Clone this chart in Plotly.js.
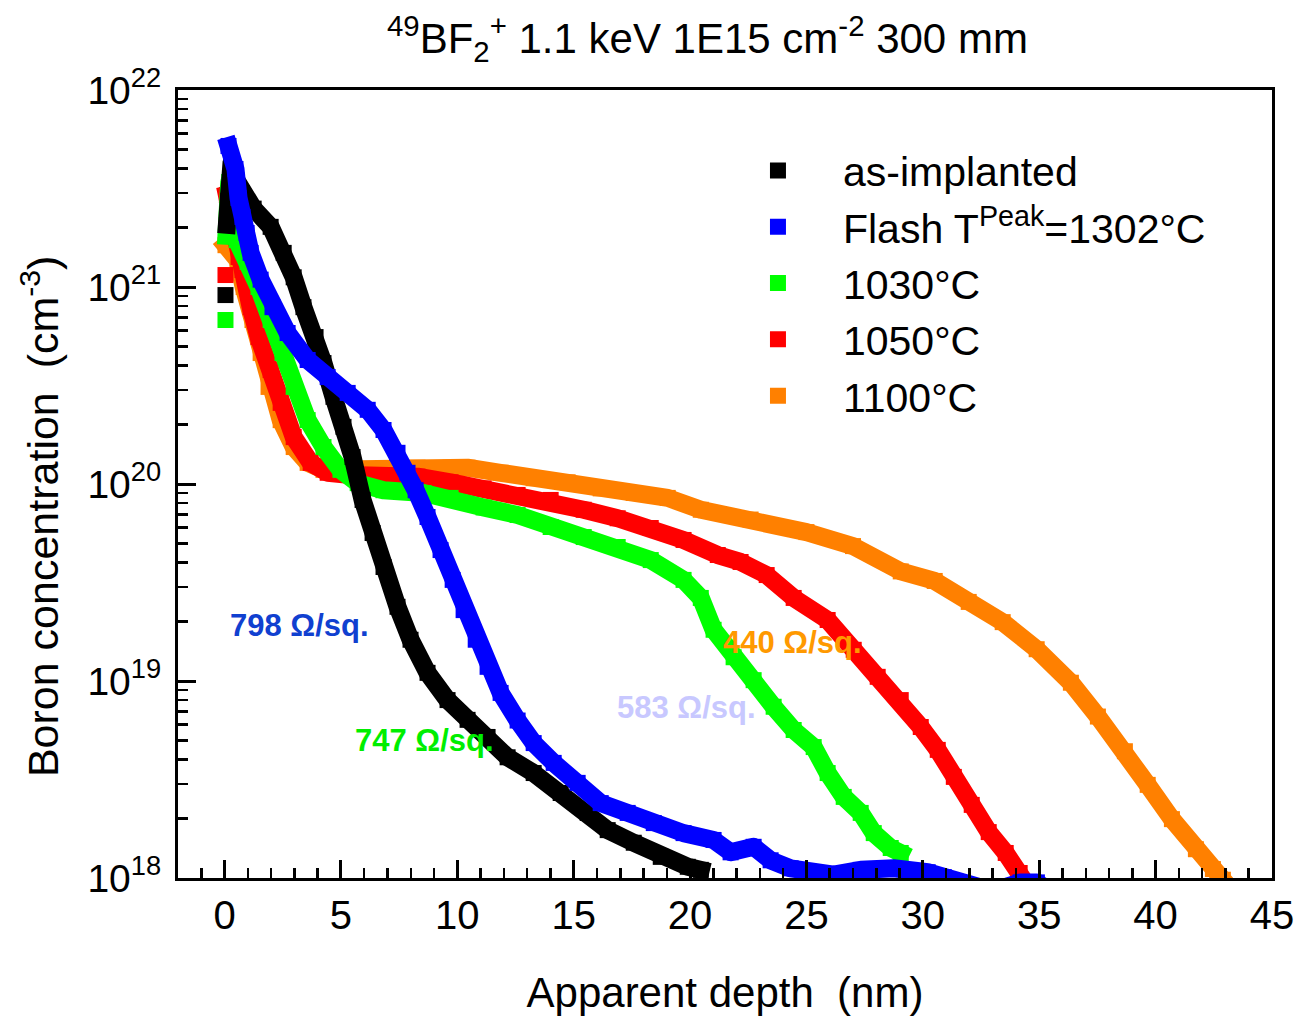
<!DOCTYPE html>
<html><head><meta charset="utf-8">
<script src="https://cdn.plot.ly/plotly-3.0.1.min.js"></script>
<style>
body{margin:0;background:#fff}
#chart{width:1298px;height:1016px}
.scatterlayer .js-line{stroke-linejoin:round !important;stroke-linecap:square !important}
</style>
</head><body><div id="chart"></div>
<script>
// ---- data (depth in nm, concentration in cm^-3) ----
const seriesNames = ['as-implanted', 'Flash T<sup>Peak</sup>=1302°C', '1030°C', '1050°C', '1100°C'];
const seriesColors = ['#000000', '#0000ff', '#00ff00', '#ff0000', '#ff8000'];

const blackX = [0.04, null, 0.10, 0.16, 0.30, 0.50, 0.75, 1.25, 1.98, 2.54, 2.97, 3.39, 3.91, 4.25, 4.68, 5.11, 5.50, 5.93, 6.36, 6.83, 7.43, 7.99, 8.72, 9.58, 10.44, 11.30, 12.16, 13.28, 14.44, 15.60, 16.46, 17.58, 18.74, 19.90, 20.46];
const blackY = [9.1e20, null, 2.07e21, 2.74e21, 4.3e21, 3.5e21, 3.0e21, 2.5e21, 2.02e21, 1.49e21, 1.12e21, 7.9e20, 5.57e20, 4.11e20, 2.77e20, 1.95e20, 1.37e20, 8.3e19, 5.64e19, 3.79e19, 2.38e19, 1.62e19, 1.10e19, 8.0e18, 6.35e18, 5.2e18, 4.1e18, 3.41e18, 2.70e18, 2.14e18, 1.75e18, 1.51e18, 1.28e18, 1.14e18, 1.10e18];

const blueX = [0.17, 0.47, 0.60, 0.77, 0.95, 1.12, 1.55, 2.06, 2.71, 3.57, 4.43, 5.29, 6.15, 6.83, 7.43, 7.86, 8.21, 8.72, 9.28, 9.80, 10.27, 10.79, 11.30, 11.86, 12.59, 13.28, 14.14, 15.17, 16.16, 17.32, 18.44, 19.72, 21.01, 21.74, 22.73, 23.46, 24.32, 25.31, 26.17, 27.33, 28.75, 30.21, 30.90, 32.0, 33.0, 34.2, 34.9, 35.5];
const blueY = [5.2e21, 3.97e21, 2.83e21, 2.27e21, 1.88e21, 1.49e21, 1.09e21, 7.9e20, 5.84e20, 4.26e20, 3.49e20, 2.90e20, 2.38e20, 1.88e20, 1.44e20, 1.14e20, 9.3e19, 6.8e19, 4.62e19, 3.26e19, 2.29e19, 1.62e19, 1.18e19, 8.7e18, 6.3e18, 4.84e18, 3.84e18, 3.04e18, 2.40e18, 2.14e18, 1.90e18, 1.69e18, 1.56e18, 1.35e18, 1.44e18, 1.23e18, 1.12e18, 1.07e18, 1.04e18, 1.10e18, 1.12e18, 1.07e18, 1.01e18, 0.88e18, 0.86e18, 0.95e18, 0.95e18, 0.85e18];

const greenX = [0.04, null, 0.08, 0.12, 0.20, 0.52, 0.99, 1.46, 1.98, 2.49, 2.97, 3.57, 4.25, 4.98, 5.72, 6.83, 8.55, 9.71, 11.13, 12.59, 14.01, 15.43, 16.89, 18.31, 19.72, 20.46, 21.01, 21.87, 22.73, 23.59, 24.45, 25.31, 25.91, 26.60, 27.33, 27.89, 28.62, 29.05];
const greenY = [6.8e20, null, 1.82e21, 2.38e21, 3.41e21, 1.73e21, 1.34e21, 1.0e21, 6.8e20, 4.62e20, 3.11e20, 2.11e20, 1.54e20, 1.18e20, 1.01e20, 9.3e19, 9.0e19, 8.5e19, 7.6e19, 6.96e19, 6.05e19, 5.38e19, 4.79e19, 4.11e19, 3.26e19, 2.64e19, 1.82e19, 1.32e19, 1.01e19, 7.4e18, 5.64e18, 4.62e18, 3.41e18, 2.58e18, 2.14e18, 1.69e18, 1.42e18, 1.34e18];

const redX = [0.04, null, 0.10, 0.60, 0.77, 1.12, 1.46, 1.98, 2.41, 2.97, 3.70, 4.43, 5.41, 6.83, 8.29, 9.71, 11.13, 12.59, 14.01, 15.43, 16.89, 18.31, 19.72, 21.19, 22.17, 23.29, 24.45, 25.91, 27.03, 28.06, 29.05, 29.91, 30.64, 31.33, 32.10, 32.83, 33.56, 34.16, 34.40];
const redY = [1.15e21, null, 2.93e21, 1.42e21, 1.22e21, 7.9e20, 5.57e20, 3.79e20, 2.58e20, 1.73e20, 1.28e20, 1.14e20, 1.11e20, 1.11e20, 1.09e20, 1.02e20, 9.5e19, 8.8e19, 8.3e19, 7.4e19, 6.7e19, 5.98e19, 5.2e19, 4.36e19, 4.02e19, 3.45e19, 2.64e19, 2.04e19, 1.44e19, 1.05e19, 8.0e18, 5.84e18, 4.47e18, 3.26e18, 2.35e18, 1.71e18, 1.34e18, 1.06e18, 0.95e18];

const orangeX = [0.04, 0.56, 0.82, 1.20, 1.55, 1.89, 2.41, 2.97, 3.57, 4.25, 5.41, 6.83, 8.29, 9.71, 10.44, 11.86, 13.28, 14.74, 16.16, 17.58, 19.04, 20.46, 22.6, 25.0, 27.0, 29.05, 30.51, 31.97, 33.43, 34.89, 36.36, 37.52, 38.68, 39.66, 40.70, 41.73, 42.46, 42.89];
const orangeY = [1.63e21, 1.37e21, 1.0e21, 6.8e20, 4.62e20, 3.11e20, 2.11e20, 1.54e20, 1.28e20, 1.18e20, 1.18e20, 1.19e20, 1.21e20, 1.21e20, 1.21e20, 1.14e20, 1.07e20, 1.02e20, 9.5e19, 9.0e19, 8.5e19, 7.4e19, 6.6e19, 5.7e19, 4.84e19, 3.6e19, 3.22e19, 2.52e19, 1.99e19, 1.45e19, 9.8e18, 6.6e18, 4.4e18, 2.97e18, 1.99e18, 1.40e18, 1.11e18, 0.98e18];

// sheet resistance labels
const rsLabels = ['798 Ω/sq.', '747 Ω/sq.', '583 Ω/sq.', '440 Ω/sq.'];
const rsColors = ['#1040d0', '#00ee00', '#c8c8ff', '#ff9900'];
const rsX = [3.22, 8.59, 19.85, 24.41];
const rsLogY = [19.284, 18.70, 18.868, 19.193];

// y tick labels
const yTickVals = [1e18, 1e19, 1e20, 1e21, 1e22];
const yTickText = ['10<sup>18</sup>', '10<sup>19</sup>', '10<sup>20</sup>', '10<sup>21</sup>', '10<sup>22</sup>'];

const titleText = '<sup>49</sup>BF<sub>2</sub><sup>+</sup> 1.1 keV 1E15 cm<sup>-2</sup> 300 mm';
const xTitle = 'Apparent depth  (nm)';
const yTitle = 'Boron concentration  (cm<sup>-3</sup>)';

// ---- build ----
const FONT = 'Liberation Sans, Arial, Helvetica, sans-serif';
const data = [];
function addSeries(idx, xs, ys) {
  const c = seriesColors[idx];
  data.push({x: xs, y: ys, type: 'scatter', mode: 'lines', line: {color: c, width: 18},
             showlegend: false, hoverinfo: 'skip'});
  data.push({x: xs, y: ys, type: 'scatter', mode: 'markers', name: seriesNames[idx],
             marker: {symbol: 'square', size: 16, color: c, line: {width: 0}},
             legendrank: idx + 1});
}
// draw order (last on top)
addSeries(4, orangeX, orangeY);
addSeries(3, redX, redY);
addSeries(2, greenX, greenY);
addSeries(0, blackX, blackY);
addSeries(1, blueX, blueY);

const annotations = rsLabels.map((t, i) => ({
  text: '<b>' + t + '</b>', x: rsX[i], y: rsLogY[i], xref: 'x', yref: 'y',
  showarrow: false, xanchor: 'center', yanchor: 'middle',
  font: {family: FONT, size: 31, color: rsColors[i]}
}));
// y axis title placed as rotated text (positioned like the reference)
annotations.push({
  text: yTitle, xref: 'paper', yref: 'paper', x: 0, y: 0.458, xshift: -138,
  xanchor: 'center', yanchor: 'middle', textangle: -90, showarrow: false,
  font: {family: FONT, size: 43, color: '#000'}
});

const layout = {
  width: 1298, height: 1016,
  margin: {l: 178, r: 26, t: 90, b: 138},
  paper_bgcolor: '#ffffff', plot_bgcolor: '#ffffff',
  font: {family: FONT, color: '#000000', size: 40},
  title: {text: titleText, font: {size: 42, color: '#000'}, xref: 'container', yref: 'container',
          x: 0.545, xanchor: 'center', y: 0.962, yanchor: 'middle'},
  showlegend: true,
  legend: {x: 0.489, y: 0.94, xanchor: 'left', yanchor: 'top', font: {size: 41},
           bgcolor: 'rgba(0,0,0,0)', borderwidth: 0, itemwidth: 120, traceorder: 'normal'},
  xaxis: {range: [-2, 45], tick0: 0, dtick: 5, ticks: 'inside', ticklen: 18, tickwidth: 3, tickcolor: '#000',
          showline: true, linewidth: 3, linecolor: '#000', mirror: true, showgrid: false, zeroline: false,
          tickfont: {size: 40},
          minor: {dtick: 1, tick0: 0, ticks: 'inside', ticklen: 10, tickwidth: 2.5, tickcolor: '#000', showgrid: false},
          title: {text: xTitle, font: {size: 42}, standoff: 42}},
  yaxis: {type: 'log', range: [18, 22], tickmode: 'array', tickvals: yTickVals, ticktext: yTickText,
          ticks: 'inside', ticklen: 18, tickwidth: 3, ticklabelstandoff: 6,
          tickcolor: '#000', showline: true, linewidth: 3, linecolor: '#000', mirror: true, showgrid: false,
          zeroline: false, tickfont: {size: 39},
          minor: {dtick: 'D1', ticks: 'inside', ticklen: 10, tickwidth: 2.5, tickcolor: '#000', showgrid: false}},
  yaxis2: {type: 'log', range: [17, 22], dtick: 1, overlaying: 'y', side: 'right', anchor: 'x',
           ticks: 'inside', ticklen: 18, tickwidth: 3, tickcolor: '#000', showticklabels: false,
           showline: false, showgrid: false, zeroline: false,
           minor: {dtick: 'D1', ticks: 'inside', ticklen: 10, tickwidth: 2.5, tickcolor: '#000', showgrid: false}},
  xaxis2: {range: [-2, 45], tick0: -0.945, dtick: 1.912, overlaying: 'x', side: 'top', anchor: 'y',
           ticks: 'inside', ticklen: 15, tickwidth: 3, tickcolor: '#000', showticklabels: false,
           showline: false, showgrid: false, zeroline: false},
  annotations: annotations
};

Plotly.newPlot('chart', data, layout, {displayModeBar: false, staticPlot: true});
</script>
</body></html>
